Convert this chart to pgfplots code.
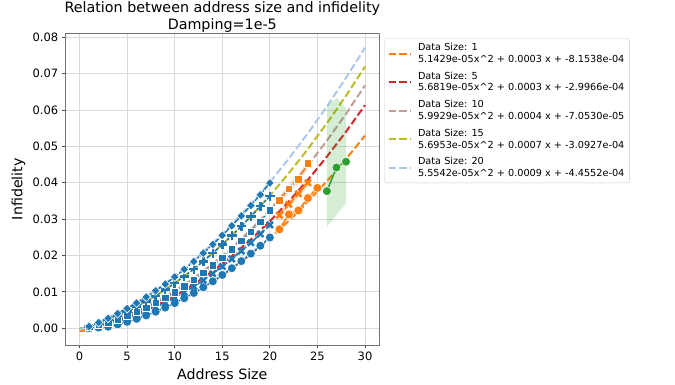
\documentclass[border=0pt]{standalone}
\usepackage{pgfplots}
\pgfplotsset{compat=1.18}
\usepackage{fontspec}
\setmainfont{DejaVu Sans}
\definecolor{tabblue}{HTML}{1F77B4}
\definecolor{taborange}{HTML}{FF7F0E}
\definecolor{tabgreen}{HTML}{2CA02C}
\definecolor{tabred}{HTML}{D62728}
\definecolor{lbrown}{HTML}{C49C94}
\definecolor{olive}{HTML}{BCBD22}
\definecolor{lblue}{HTML}{AEC7E8}
\pgfplotsset{
  fitline/.style={#1, line width=2pt, dash pattern=on 7.4pt off 3.2pt},
  mcirc/.style={mark=*, mark size=4.5pt, mark options={solid, fill=#1, draw=white, line width=0.6pt}},
  mx/.style={mark=x, mark size=4.3pt, mark options={solid, draw=#1, line width=2.5pt}},
  msq/.style={mark=square*, mark size=3.8pt, mark options={solid, fill=#1, draw=white, line width=0.6pt}},
  mplus/.style={mark=+, mark size=4.7pt, mark options={solid, draw=#1, line width=2.5pt}},
  mdia/.style={mark=diamond*, mark size=4.5pt, mark options={solid, fill=#1, draw=white, line width=0.6pt, xscale=1.3}},
  s1/.style={solid},
  s5/.style={dash pattern=on 6pt off 2.25pt},
  s10/.style={dash pattern=on 1.5pt off 1.5pt},
  s15/.style={dash pattern=on 4.5pt off 1.9pt on 2.25pt off 1.9pt},
  s20/.style={dash pattern=on 7.5pt off 1.5pt on 1.5pt off 1.5pt on 1.5pt off 1.5pt},
}
\begin{document}
\begin{tikzpicture}[x=1pt,y=1pt]
\useasboundingbox (0,0) rectangle (675,385);
\begin{axis}[
  at={(65.3pt,40pt)}, anchor=south west,
  scale only axis, width=314pt, height=311.7pt,
  xmin=-1.5, xmax=31.5, ymin=-0.0046, ymax=0.0811,
  xtick={0,5,10,15,20,25,30},
  ytick={0,0.01,0.02,0.03,0.04,0.05,0.06,0.07,0.08},
  scaled y ticks=false,
  yticklabel style={/pgf/number format/.cd, fixed, fixed zerofill, precision=2},
  /pgf/number format/assume math mode=true,
  tick label style={font=\fontsize{11.5}{13}\selectfont, black},
  tick pos=left, tick align=outside, major tick length=3.5pt,
  tick style={black!70, line width=0.8pt},
  axis line style={black!55, line width=0.8pt},
  grid=major, major grid style={black!15, line width=0.8pt},
  title={Relation between address size and infidelity\\Damping=1e-5},
  title style={align=center, font=\fontsize{14.3}{16.7}\selectfont, at={(0.5,1)}, anchor=south, inner sep=0pt, yshift=-5pt},
  xlabel={Address Size}, ylabel={Infidelity},
  label style={font=\fontsize{14.2}{16}\selectfont},
  xlabel style={at={(axis description cs:0.5,0)}, anchor=base, yshift=-34.3pt},
  ylabel style={at={(axis description cs:0,0.5)}, anchor=base, yshift=43pt},
  legend style={at={(1.016,0.984)}, anchor=north west, draw=black!20, rounded corners=2pt,
    font=\fontsize{9.7}{11.7}\selectfont, row sep=4pt, column sep=5pt, inner xsep=3pt, inner ysep=2.8pt,
    nodes={inner sep=2pt},
    cells={anchor=west, align=left}},
  legend image code/.code={\draw[#1] (0pt,0pt) -- (21.5pt,0pt);},
]
% fitted curves
\addplot[fitline=taborange] coordinates {(0,-0.000815)(2,-0.000109)(4,0.001008)(6,0.002536)(8,0.004476)(10,0.006828)(12,0.009591)(14,0.012765)(16,0.016351)(18,0.020348)(20,0.024757)(22,0.029577)(24,0.034808)(26,0.040451)(28,0.046505)(30,0.052971)};
\addlegendentry{Data Size: 1\\5.1429e-05x\textasciicircum 2 + 0.0003 x + -8.1538e-04}
\addplot[fitline=tabred] coordinates {(0,-0.0003)(2,0.000627)(4,0.002009)(6,0.003845)(8,0.006136)(10,0.008882)(12,0.012082)(14,0.015737)(16,0.019846)(18,0.024409)(20,0.029428)(22,0.0349)(24,0.040828)(26,0.04721)(28,0.054046)(30,0.061337)};
\addlegendentry{Data Size: 5\\5.6819e-05x\textasciicircum 2 + 0.0003 x + -2.9966e-04}
\addplot[fitline=lbrown] coordinates {(0,-0.000071)(2,0.001029)(4,0.002608)(6,0.004666)(8,0.007204)(10,0.010222)(12,0.013719)(14,0.017695)(16,0.022151)(18,0.027086)(20,0.032501)(22,0.038395)(24,0.044768)(26,0.051621)(28,0.058953)(30,0.066765)};
\addlegendentry{Data Size: 10\\5.9929e-05x\textasciicircum 2 + 0.0004 x + -7.0530e-05}
\addplot[fitline=olive] coordinates {(0,-0.000309)(2,0.001319)(4,0.003402)(6,0.005941)(8,0.008936)(10,0.012386)(12,0.016292)(14,0.020654)(16,0.025471)(18,0.030744)(20,0.036472)(22,0.042656)(24,0.049296)(26,0.056391)(28,0.063942)(30,0.071949)};
\addlegendentry{Data Size: 15\\5.6953e-05x\textasciicircum 2 + 0.0007 x + -3.0927e-04}
\addplot[fitline=lblue] coordinates {(0,-0.000446)(2,0.001616)(4,0.004123)(6,0.007074)(8,0.010469)(10,0.014308)(12,0.018592)(14,0.02332)(16,0.028493)(18,0.03411)(20,0.040171)(22,0.046676)(24,0.053626)(26,0.06102)(28,0.068859)(30,0.077142)};
\addlegendentry{Data Size: 20\\5.5542e-05x\textasciicircum 2 + 0.0009 x + -4.4552e-04}
% confidence bands
\addplot[forget plot, draw=none, fill=tabgreen, fill opacity=0.2] coordinates {(26,0.0279)(27,0.0311)(28,0.0343)(28,0.0606)(27,0.0633)(26,0.0613)} -- cycle;
\addplot[forget plot, draw=none, fill=taborange, fill opacity=0.2] coordinates {(21,0.0340)(22,0.0372)(23,0.0398)(24,0.0440)(24,0.0466)(23,0.0422)(22,0.0396)(21,0.0364)} -- cycle;
\addplot[forget plot, draw=none, fill=taborange, fill opacity=0.2] coordinates {(21,0.0300)(22,0.0330)(23,0.0359)(24,0.0389)(24,0.0411)(23,0.0381)(22,0.0352)(21,0.0322)} -- cycle;
\addplot[forget plot, draw=none, fill=taborange, fill opacity=0.2] coordinates {(21,0.0266)(22,0.0306)(23,0.0317)(24,0.0351)(25,0.0380)(25,0.0392)(24,0.0365)(23,0.0331)(22,0.0320)(21,0.0278)} -- cycle;
% blue group (address size 1-20)
\addplot[forget plot, tabblue, line width=1.5pt, s1, mcirc=tabblue] coordinates {(1,0.0001)(2,0.0002)(3,0.00043)(4,0.00105)(5,0.00177)(6,0.0026)(7,0.00353)(8,0.00456)(9,0.00569)(10,0.00693)(11,0.00827)(12,0.00971)(13,0.01126)(14,0.01291)(15,0.01466)(16,0.01651)(17,0.01847)(18,0.02053)(19,0.02269)(20,0.02496)};
\addplot[forget plot, tabblue, line width=1.5pt, s5, mx=tabblue] coordinates {(1,0.00006)(2,0.00053)(3,0.00111)(4,0.00181)(5,0.00262)(6,0.00355)(7,0.00458)(8,0.00574)(9,0.0070)(10,0.00838)(11,0.00988)(12,0.01148)(13,0.0132)(14,0.01504)(15,0.01698)(16,0.01905)(17,0.02122)(18,0.02351)(19,0.02591)(20,0.02843)};
\addplot[forget plot, tabblue, line width=1.5pt, s10, msq=tabblue] coordinates {(1,0.00039)(2,0.00097)(3,0.00167)(4,0.00249)(5,0.00343)(6,0.00449)(7,0.00567)(8,0.00696)(9,0.00838)(10,0.00992)(11,0.01158)(12,0.01336)(13,0.01526)(14,0.01728)(15,0.01941)(16,0.02167)(17,0.02405)(18,0.02655)(19,0.02930)(20,0.0325)};
\addplot[forget plot, tabblue, line width=1.5pt, s15, mplus=tabblue] coordinates {(1,0.00045)(2,0.00132)(3,0.0023)(4,0.0034)(5,0.00461)(6,0.00594)(7,0.00738)(8,0.00894)(9,0.0106)(10,0.01239)(11,0.01428)(12,0.01629)(13,0.01842)(14,0.02065)(15,0.023)(16,0.02547)(17,0.02805)(18,0.03074)(19,0.03355)(20,0.03630)};
\addplot[forget plot, tabblue, line width=1.5pt, s20, mdia=tabblue] coordinates {(1,0.00051)(2,0.00158)(3,0.00275)(4,0.00404)(5,0.00544)(6,0.00695)(7,0.00858)(8,0.01031)(9,0.01215)(10,0.01411)(11,0.01618)(12,0.01835)(13,0.02064)(14,0.02304)(15,0.02555)(16,0.02817)(17,0.03091)(18,0.03375)(19,0.03671)(20,0.03995)};
% orange group
\addplot[forget plot, taborange, line width=1.5pt, s1, mcirc=taborange] coordinates {(21,0.0272)(22,0.0313)(23,0.0324)(24,0.0358)(25,0.0386)};
\addplot[forget plot, taborange, line width=1.5pt, s5, mx=taborange] coordinates {(21,0.0311)(22,0.0341)(23,0.0370)(24,0.0400)};
\addplot[forget plot, taborange, line width=1.5pt, s10, msq=taborange] coordinates {(21,0.0352)(22,0.0384)(23,0.0410)(24,0.0453)};
% green group
\addplot[forget plot, tabgreen, line width=1.5pt, s1, mcirc=tabgreen] coordinates {(26,0.0377)(27,0.0442)(28,0.0458)};
\end{axis}
\end{tikzpicture}
\end{document}
